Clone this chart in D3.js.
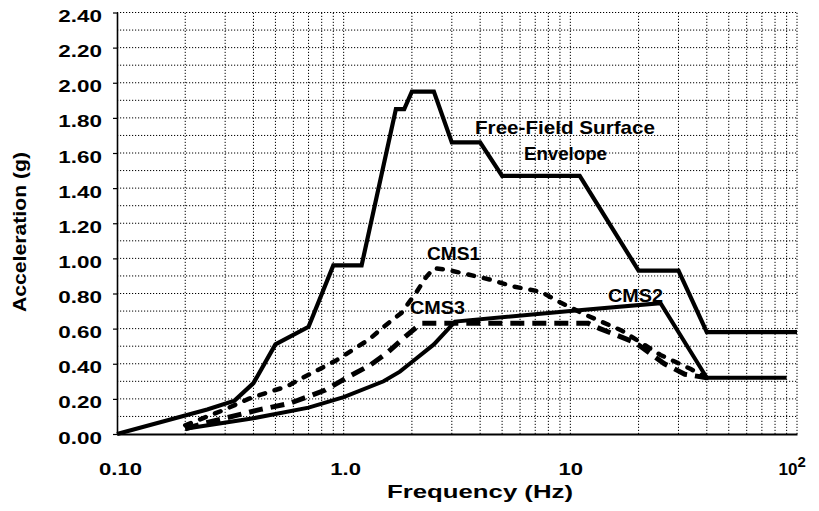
<!DOCTYPE html>
<html><head><meta charset="utf-8">
<script src="https://cdn.jsdelivr.net/npm/d3@7"></script>
<style>
html,body{margin:0;padding:0;background:#fff;}
svg{display:block;}
text{font-family:"Liberation Sans",Arial,Helvetica,sans-serif;font-weight:bold;fill:#000;}
</style>
</head><body>
<svg id="c" width="819" height="511"></svg>
<script>
// ---- data ----
const yTicks = [0, 0.2, 0.4, 0.6, 0.8, 1.0, 1.2, 1.4, 1.6, 1.8, 2.0, 2.2, 2.4];
const yTickLabels = ["0.00","0.20","0.40","0.60","0.80","1.00","1.20","1.40","1.60","1.80","2.00","2.20","2.40"];
const xTicks = [0.1, 1, 10, 100];
const xTickLabels = ["0.10", "1.0", "10", "10"];

const envFreq = [0.1, 0.25, 0.33, 0.4, 0.5, 0.7, 0.9, 1.2, 1.7, 1.85, 2.0, 2.5, 3.0, 4.0, 5.0, 11, 20, 30, 40, 100];
const envAcc  = [0.0, 0.14, 0.19, 0.29, 0.51, 0.61, 0.96, 0.96, 1.85, 1.85, 1.95, 1.95, 1.66, 1.66, 1.47, 1.47, 0.93, 0.93, 0.58, 0.58];

const cms1Freq = [0.2, 0.3, 0.38, 0.47, 0.56, 0.66, 0.77, 0.93, 1.1, 1.3, 1.5, 1.8, 2.1, 2.3, 2.5, 2.85, 3.5, 4.4, 5.6, 7.4, 9.0, 11.6, 16.8, 25, 34, 40];
const cms1Acc  = [0.05, 0.14, 0.20, 0.24, 0.27, 0.32, 0.365, 0.42, 0.48, 0.54, 0.61, 0.69, 0.81, 0.89, 0.945, 0.935, 0.91, 0.88, 0.84, 0.81, 0.75, 0.68, 0.59, 0.45, 0.37, 0.32];

const cms2Freq = [0.2, 0.4, 0.7, 1.0, 1.5, 1.77, 2.0, 2.5, 3.1, 10, 25, 40, 90];
const cms2Acc  = [0.03, 0.09, 0.15, 0.21, 0.30, 0.355, 0.41, 0.51, 0.64, 0.70, 0.745, 0.32, 0.32];

const cms3Freq = [0.2, 0.24, 0.3, 0.43, 0.58, 0.83, 1.03, 1.3, 1.55, 1.87, 2.2, 5.0, 12, 13.5, 19.4, 26, 32, 40];
const cms3Acc  = [0.03, 0.06, 0.09, 0.14, 0.175, 0.25, 0.32, 0.39, 0.46, 0.555, 0.63, 0.63, 0.63, 0.60, 0.52, 0.40, 0.34, 0.32];

// ---- chart ----
const svg = d3.select("#c");
const x = d3.scaleLog().domain([0.1, 100]).range([117, 797]);
const y = d3.scaleLinear().domain([0, 2.4]).range([434, 12.5]);

// grid
const gridX = [];
[0.1, 1, 10].forEach(d => { for (let k = 1; k <= 9; k++) gridX.push(k * d); });
gridX.push(100);
const gridY = d3.range(1, 25).map(i => i / 10);
const grid = svg.append("g");
grid.selectAll("line.v").data(gridX.slice(1)).join("line").attr("class","v")
  .attr("x1", d => x(d)).attr("x2", d => x(d)).attr("y1", y(0)).attr("y2", y(2.4))
  .attr("stroke", "#000").attr("stroke-width", 1).attr("stroke-dasharray", "1.2,1.8");
grid.selectAll("line.h").data(gridY).join("line").attr("class","h")
  .attr("x1", x(0.1)).attr("x2", x(100)).attr("y1", d => y(d)).attr("y2", d => y(d))
  .attr("stroke", "#000").attr("stroke-width", 1).attr("stroke-dasharray", "1.2,1.8");

// curves
const line = d3.line().x(d => x(d[0])).y(d => y(d[1]));
const zip = (a, b) => a.map((v, i) => [v, b[i]]);
svg.append("path").attr("d", line(zip(cms3Freq, cms3Acc))).attr("fill","none")
  .attr("stroke","#000").attr("stroke-width",5).attr("stroke-dasharray","14,8");
svg.append("path").attr("d", line(zip(cms1Freq, cms1Acc))).attr("fill","none")
  .attr("stroke","#000").attr("stroke-width",4.5).attr("stroke-linecap","round").attr("stroke-dasharray","6,10");
svg.append("path").attr("d", line(zip(cms2Freq, cms2Acc))).attr("fill","none")
  .attr("stroke","#000").attr("stroke-width",4);
svg.append("path").attr("d", line(zip(envFreq, envAcc))).attr("fill","none")
  .attr("stroke","#000").attr("stroke-width",4.2);

// axes
const stretch = (sel, f) => sel.each(function(){ const L = this.getComputedTextLength(); d3.select(this).attr("textLength", L * f).attr("lengthAdjust","spacingAndGlyphs"); });

const gy = svg.append("g").attr("transform", "translate(117,0)")
  .call(d3.axisLeft(y).tickValues(yTicks).tickSize(4).tickSizeOuter(0).tickFormat((d, i) => yTickLabels[i]));
gy.attr("font-family", null).attr("font-size", null);
gy.select(".domain").attr("stroke-width", 1.6);
gy.selectAll(".tick line").attr("stroke-width", 1.2);
gy.selectAll(".tick text").attr("font-size", 17).attr("dy", null).attr("y", 9)
  .attr("text-anchor","start").attr("x", 0)
  .each(function(){ const L = this.getComputedTextLength() * 1.32; d3.select(this).attr("textLength", L).attr("lengthAdjust","spacingAndGlyphs").attr("x", -15 - L); });

const gx = svg.append("g").attr("transform", "translate(0,434)")
  .call(d3.axisBottom(x).tickValues(xTicks).tickSize(0).tickSizeOuter(0).tickFormat((d, i) => xTickLabels[i]));
gx.attr("font-family", null).attr("font-size", null);
gx.select(".domain").attr("stroke-width", 2);
gx.selectAll(".tick text").attr("font-size", 17).attr("dy", null).attr("y", 41);
gx.selectAll(".tick text").filter((d, i) => i < 3).call(stretch, 1.3);
gx.selectAll(".tick text").filter((d, i) => i === 0).attr("x", 3);
gx.selectAll(".tick text").filter((d, i) => i === 1).attr("x", 1.5);
gx.selectAll(".tick text").filter((d, i) => i === 3)
  .attr("text-anchor","start").attr("x", -19)
  .append("tspan").attr("dy", -8).attr("font-size", 15).text("2");

// titles
svg.append("text").attr("x", 480).attr("y", 498).attr("text-anchor","middle")
  .attr("font-size", 18).attr("textLength", 186).attr("lengthAdjust","spacingAndGlyphs")
  .text("Frequency (Hz)");
svg.append("text").attr("transform","translate(26,232) rotate(-90)").attr("text-anchor","middle")
  .attr("font-size", 18).attr("textLength", 160).attr("lengthAdjust","spacingAndGlyphs")
  .text("Acceleration (g)");

// annotations
const ann = [
  {t: "Free-Field Surface", x: 475, y: 134, w: 180},
  {t: "Envelope", x: 524, y: 160, w: 83},
  {t: "CMS1", x: 427, y: 260, w: 53},
  {t: "CMS3", x: 410, y: 314, w: 55},
  {t: "CMS2", x: 608, y: 302, w: 55}
];
svg.append("g").selectAll("text").data(ann).join("text")
  .attr("x", d => d.x).attr("y", d => d.y).attr("font-size", 19)
  .attr("textLength", d => d.w).attr("lengthAdjust","spacingAndGlyphs")
  .text(d => d.t);
</script>
</body></html>
